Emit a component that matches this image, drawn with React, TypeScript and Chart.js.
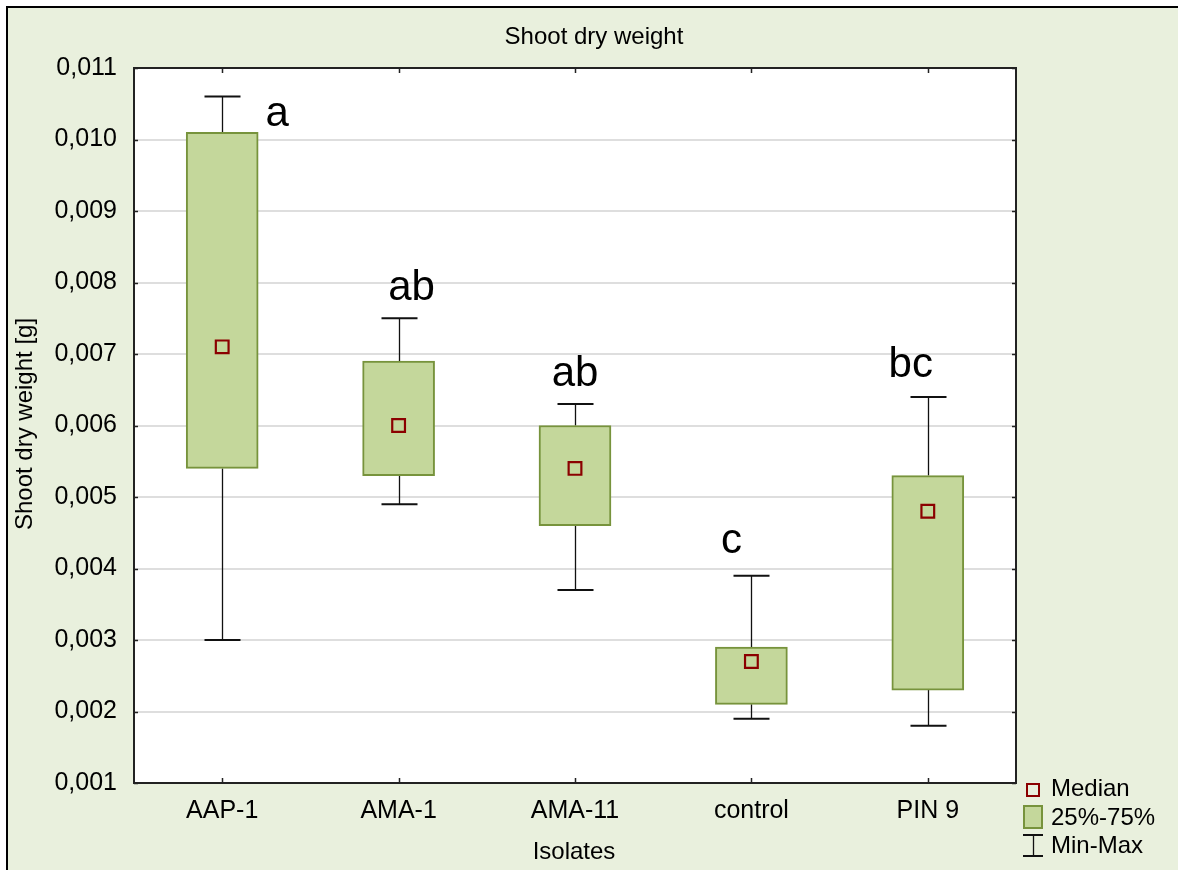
import { useEffect, useRef } from "react";
import { Chart, registerables } from "chart.js";

Chart.register(...registerables);

// Shoot dry weight per isolate: min, quartiles, median, max (g)
const isolates = ["AAP-1", "AMA-1", "AMA-11", "control", "PIN 9"];
const minValues = [0.003, 0.0049, 0.0037, 0.0019, 0.0018];
const q1Values = [0.0054, 0.0053, 0.0046, 0.0021, 0.0023];
const medianValues = [0.0071, 0.006, 0.0054, 0.0027, 0.0048];
const q3Values = [0.0101, 0.0069, 0.006, 0.0029, 0.0053];
const maxValues = [0.0106, 0.0075, 0.0063, 0.0039, 0.0064];
const groupLetters = ["a", "ab", "ab", "c", "bc"];

const yMin = 0.001;
const yMax = 0.011;
const yStep = 0.001;

const chartTitle = "Shoot dry weight";
const xTitle = "Isolates";
const yTitle = "Shoot dry weight [g]";
const legendLabels = ["Median", "25%-75%", "Min-Max"];

// where each group letter sits, relative to its top whisker cap
const letterOffsets = [
  { dx: 55, dy: 29 },
  { dx: 13, dy: -18 },
  { dx: 0, dy: -18 },
  { dx: -20, dy: -23 },
  { dx: -17, dy: -20 },
];

const FONT = "'Liberation Sans', Arial, Helvetica, sans-serif";
const PAGE_BG = "#e9f0dd";
const BOX_FILL = "#c4d79b";
const BOX_EDGE = "#77933c";
const MEDIAN_COLOR = "#8b0000";
const W = 1178;
const H = 870;

const decor = {
  id: "statDecor",
  beforeDraw(chart: any) {
    const { ctx, chartArea: a } = chart;
    ctx.save();
    ctx.fillStyle = "#ffffff";
    ctx.fillRect(0, 0, W, H);
    ctx.fillStyle = PAGE_BG;
    ctx.fillRect(7, 7, W - 7, H - 7);
    ctx.strokeStyle = "#000";
    ctx.lineWidth = 2;
    ctx.beginPath();
    ctx.moveTo(7, H);
    ctx.lineTo(7, 7);
    ctx.lineTo(W, 7);
    ctx.stroke();
    ctx.fillStyle = "#ffffff";
    ctx.fillRect(a.left, a.top, a.right - a.left, a.bottom - a.top);
    ctx.restore();
  },
  beforeDatasetsDraw(chart: any) {
    const { ctx, scales } = chart;
    const x = scales.x;
    const y = scales.y;
    ctx.save();
    ctx.strokeStyle = "#111";
    isolates.forEach((_, i) => {
      const cx = Math.round(x.getPixelForValue(i)) + 0.5;
      const pMax = y.getPixelForValue(maxValues[i]);
      const pMin = y.getPixelForValue(minValues[i]);
      const pQ3 = y.getPixelForValue(q3Values[i]);
      const pQ1 = y.getPixelForValue(q1Values[i]);
      ctx.lineWidth = 1.3;
      ctx.beginPath();
      ctx.moveTo(cx, pQ3);
      ctx.lineTo(cx, pMax);
      ctx.moveTo(cx, pQ1);
      ctx.lineTo(cx, pMin);
      ctx.stroke();
      ctx.lineWidth = 2;
      ctx.beginPath();
      ctx.moveTo(cx - 18, pMax);
      ctx.lineTo(cx + 18, pMax);
      ctx.moveTo(cx - 18, pMin);
      ctx.lineTo(cx + 18, pMin);
      ctx.stroke();
    });
    ctx.restore();
  },
  afterDraw(chart: any) {
    const { ctx, chartArea: a, scales } = chart;
    const x = scales.x;
    const y = scales.y;
    ctx.save();

    // plot frame with inward ticks
    ctx.strokeStyle = "#222";
    ctx.lineWidth = 2;
    ctx.strokeRect(a.left, a.top, a.right - a.left, a.bottom - a.top);
    ctx.lineWidth = 1.5;
    ctx.beginPath();
    y.ticks.forEach((t: any) => {
      const py = Math.round(y.getPixelForValue(t.value)) + 0.5;
      ctx.moveTo(a.left, py);
      ctx.lineTo(a.left + 4, py);
      ctx.moveTo(a.right, py);
      ctx.lineTo(a.right - 4, py);
    });
    isolates.forEach((_, i) => {
      const px = Math.round(x.getPixelForValue(i)) + 0.5;
      ctx.moveTo(px, a.top);
      ctx.lineTo(px, a.top + 5);
      ctx.moveTo(px, a.bottom);
      ctx.lineTo(px, a.bottom - 5);
    });
    ctx.stroke();

    // titles
    ctx.fillStyle = "#000";
    ctx.textAlign = "center";
    ctx.textBaseline = "middle";
    ctx.font = `24px ${FONT}`;
    ctx.fillText(chartTitle, 594, 37);
    ctx.fillText(xTitle, 574, 852);
    ctx.save();
    ctx.translate(25, 424);
    ctx.rotate(-Math.PI / 2);
    ctx.fillText(yTitle, 0, 0);
    ctx.restore();

    // group letters
    ctx.font = `42px ${FONT}`;
    ctx.textBaseline = "alphabetic";
    groupLetters.forEach((txt, i) => {
      const px = x.getPixelForValue(i) + letterOffsets[i].dx;
      const py = y.getPixelForValue(maxValues[i]) + letterOffsets[i].dy;
      ctx.fillText(txt, px, py);
    });

    // legend
    ctx.font = `24px ${FONT}`;
    ctx.textAlign = "left";
    ctx.textBaseline = "alphabetic";
    ctx.strokeStyle = MEDIAN_COLOR;
    ctx.lineWidth = 2;
    ctx.strokeRect(1027, 784, 12, 12);
    ctx.fillStyle = BOX_FILL;
    ctx.fillRect(1024, 806, 18, 22);
    ctx.strokeStyle = BOX_EDGE;
    ctx.lineWidth = 2;
    ctx.strokeRect(1024, 806, 18, 22);
    ctx.strokeStyle = "#111";
    ctx.lineWidth = 2;
    ctx.beginPath();
    ctx.moveTo(1023, 835);
    ctx.lineTo(1043, 835);
    ctx.moveTo(1023, 856);
    ctx.lineTo(1043, 856);
    ctx.stroke();
    ctx.lineWidth = 1.3;
    ctx.beginPath();
    ctx.moveTo(1033.5, 835);
    ctx.lineTo(1033.5, 856);
    ctx.stroke();
    ctx.fillStyle = "#000";
    ctx.fillText(legendLabels[0], 1051, 796);
    ctx.fillText(legendLabels[1], 1051, 825);
    ctx.fillText(legendLabels[2], 1051, 853);

    ctx.restore();
  },
};

export default function App() {
  const canvasRef = useRef<HTMLCanvasElement | null>(null);

  useEffect(() => {
    document.body.style.margin = "0";
    const canvas = canvasRef.current;
    if (!canvas) return;
    const chart = new Chart(canvas, {
      type: "bar",
      data: {
        labels: isolates,
        datasets: [
          {
            type: "line",
            label: legendLabels[0],
            data: medianValues,
            showLine: false,
            pointStyle: "rect",
            pointRadius: 9,
            pointHoverRadius: 9,
            pointBorderWidth: 2.2,
            pointBorderColor: MEDIAN_COLOR,
            pointBackgroundColor: "rgba(0,0,0,0)",
            order: 0,
          } as any,
          {
            type: "bar",
            label: legendLabels[1],
            data: isolates.map((_, i) => [q1Values[i], q3Values[i]]),
            backgroundColor: BOX_FILL,
            borderColor: BOX_EDGE,
            borderWidth: 2,
            borderSkipped: false,
            barThickness: 72,
            order: 1,
          } as any,
        ],
      },
      options: {
        responsive: false,
        animation: false,
        events: [],
        layout: { padding: { top: 68, right: W - 1016, left: 0, bottom: 0 } },
        plugins: {
          legend: { display: false },
          title: { display: false },
          tooltip: { enabled: false },
        },
        scales: {
          x: {
            type: "category",
            grid: { display: false, drawTicks: false },
            border: { display: false },
            ticks: {
              color: "#000",
              padding: 13,
              font: { family: FONT, size: 25 },
              maxRotation: 0,
            },
            afterFit(scale: any) {
              scale.height = H - 783;
            },
          },
          y: {
            type: "linear",
            min: yMin,
            max: yMax,
            grid: { color: "#dedede", lineWidth: 2, drawTicks: false },
            border: { display: false },
            ticks: {
              stepSize: yStep,
              color: "#000",
              padding: 17,
              font: { family: FONT, size: 25 },
              callback: (v: any) => Number(v).toFixed(3).replace(".", ","),
            },
            afterFit(scale: any) {
              scale.width = 134;
            },
          },
        },
      },
      plugins: [decor],
    });
    return () => chart.destroy();
  }, []);

  return (
    <div style={{ width: W, height: H, position: "relative" }}>
      <canvas ref={canvasRef} width={W} height={H} style={{ display: "block" }} />
    </div>
  );
}
